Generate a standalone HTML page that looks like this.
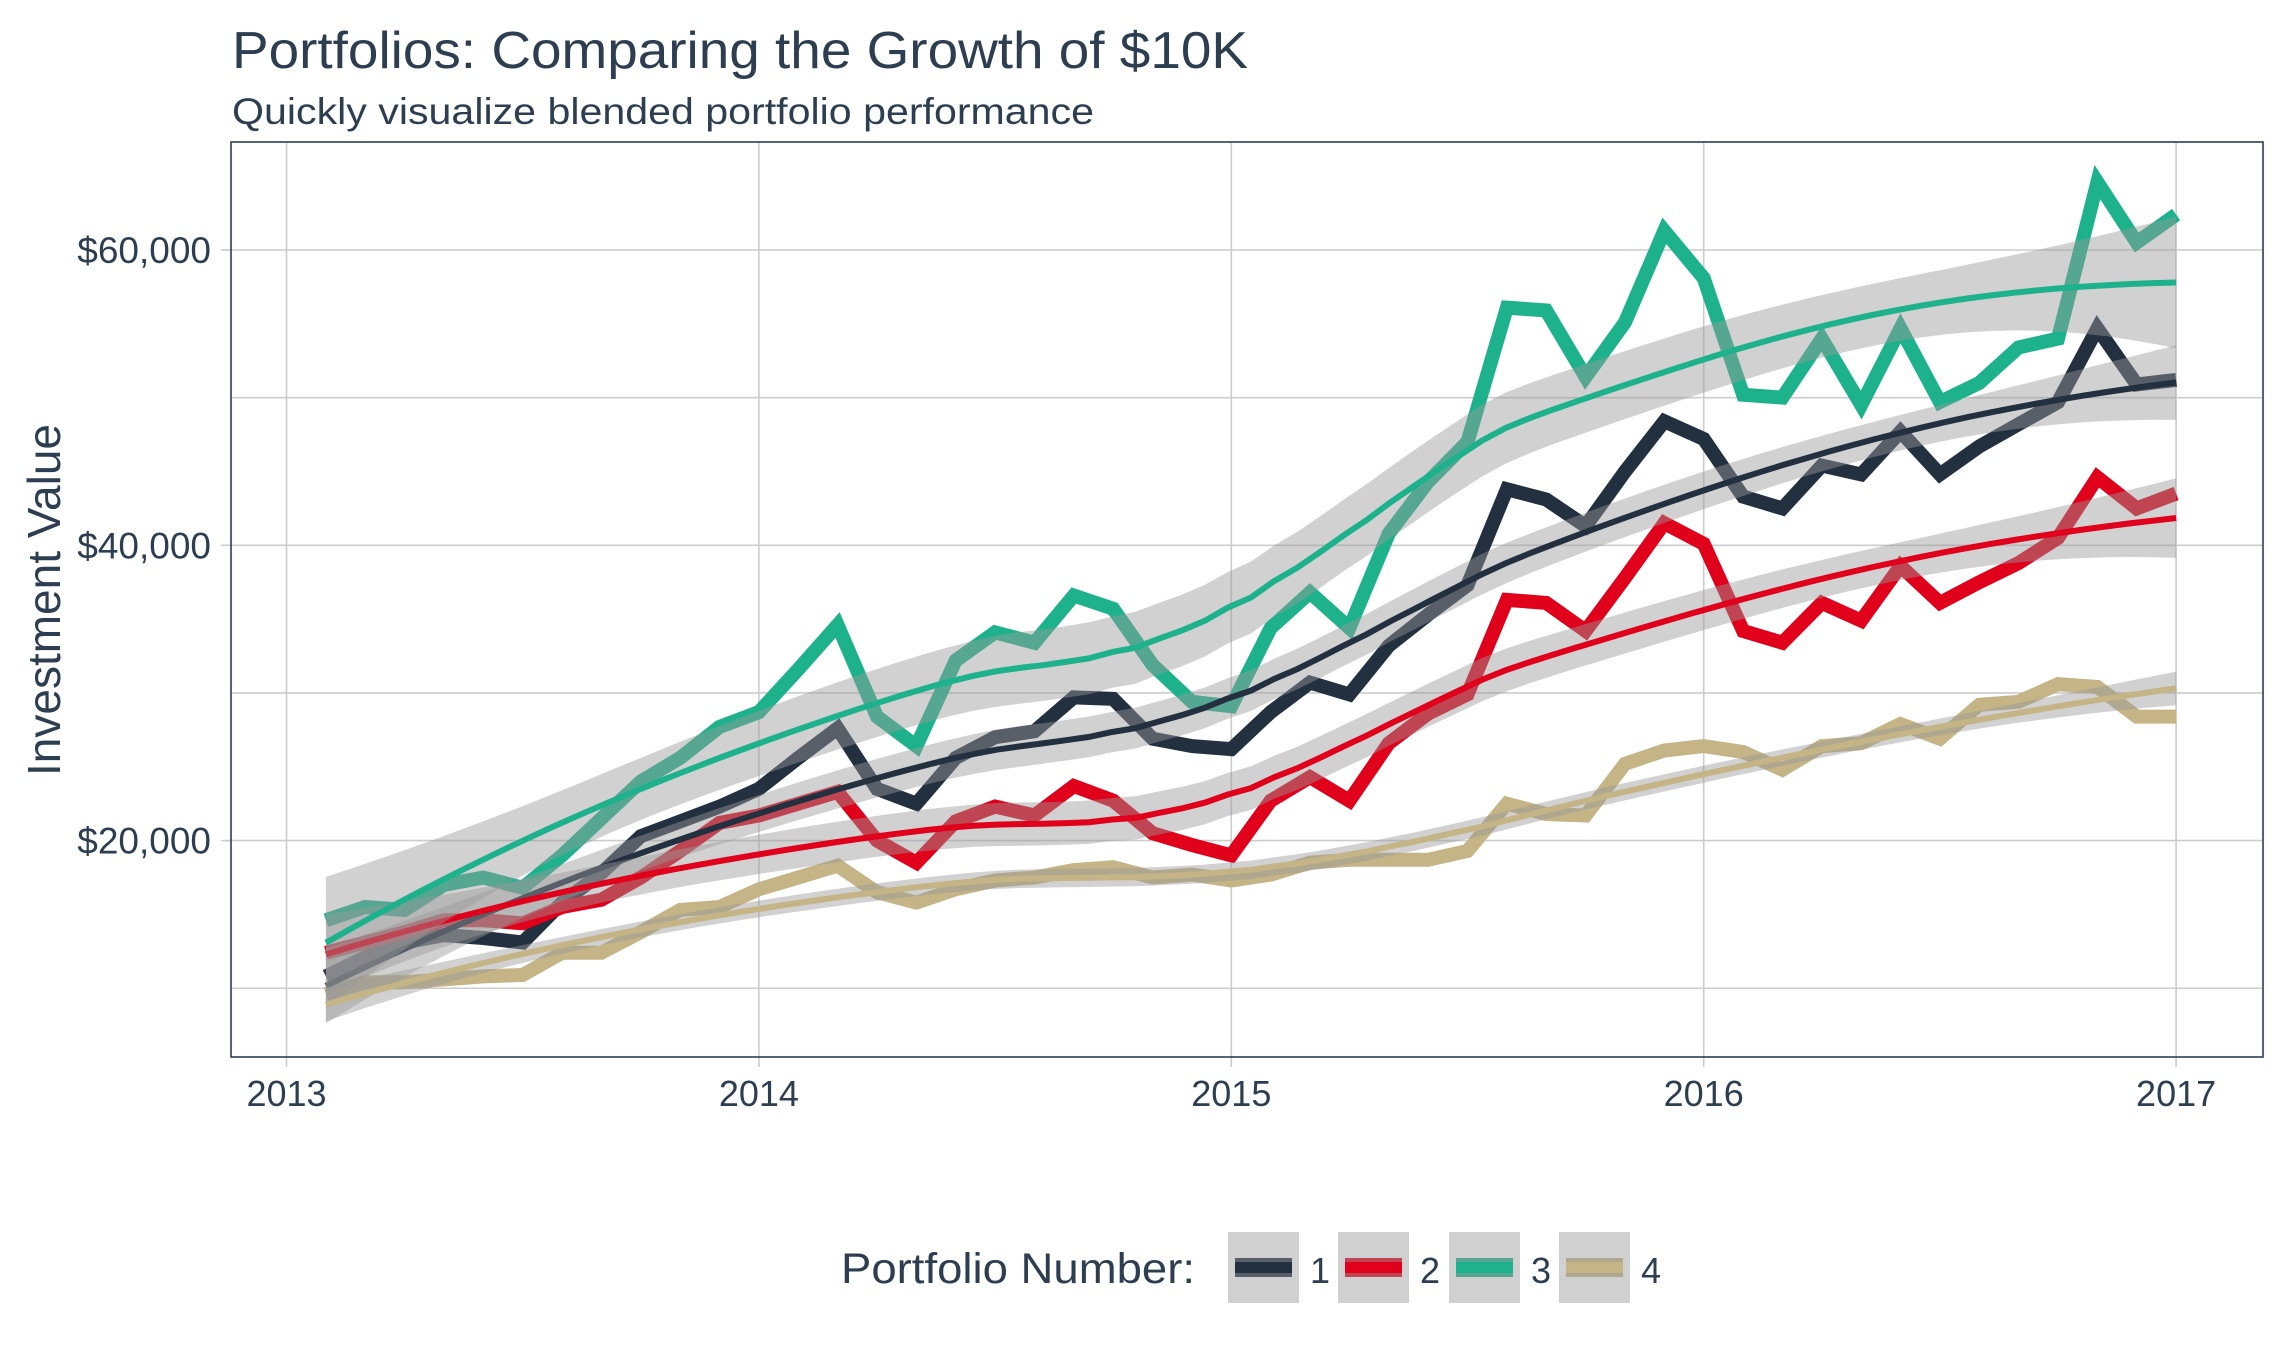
<!DOCTYPE html>
<html><head><meta charset="utf-8"><style>
html,body{margin:0;padding:0;background:#fff;}
svg{display:block;font-family:"Liberation Sans",Arial,sans-serif;}
</style></head><body>
<svg id="chart" width="2292" height="1350" viewBox="0 0 2292 1350" xmlns="http://www.w3.org/2000/svg">
<rect x="0" y="0" width="2292" height="1350" fill="#fff"/>
<text x="232" y="68" font-size="52" fill="#2c3e50" textLength="1016" lengthAdjust="spacingAndGlyphs">Portfolios: Comparing the Growth of $10K</text>
<text x="232" y="124" font-size="37" fill="#2c3e50" textLength="862" lengthAdjust="spacingAndGlyphs">Quickly visualize blended portfolio performance</text>
<g id="grid"></g>
<g id="yticks"></g>
<g id="xticks"></g>
<text transform="translate(60,600) rotate(-90)" text-anchor="middle" font-size="46" fill="#2c3e50">Investment Value</text>
<g id="rawlines"></g>
<g id="smooths"></g>
<rect x="231" y="142" width="2032" height="915" fill="none" stroke="#2c3e50" stroke-width="1.6"/>
<g id="legend">
<text x="841" y="1283" font-size="43" fill="#2c3e50" textLength="354" lengthAdjust="spacingAndGlyphs">Portfolio Number:</text>
</g>
</svg>
<script>
const NS="http://www.w3.org/2000/svg";
const seriesNames=["1","2","3","4"];
const seriesColors=["#233040","#e0001b","#1eb28c","#c4b486"];
const portfolio1=[10.8,12.1,13.1,13.6,13.4,13.1,15.8,17.8,20.3,21.3,22.3,23.5,25.6,27.6,23.5,22.5,25.6,27.0,27.4,29.7,29.6,26.9,26.4,26.2,28.7,30.7,29.9,33.2,35.3,37.3,43.8,43.1,41.3,45.0,48.4,47.2,43.3,42.5,45.4,44.8,47.7,44.8,46.7,48.2,49.7,54.7,50.9,51.2];
const portfolio2=[12.4,13.1,13.8,14.6,14.6,14.4,15.5,16.0,17.5,19.3,21.2,21.7,22.5,23.3,20.0,18.5,21.3,22.3,21.7,23.7,22.7,20.5,19.7,19.0,22.7,24.3,22.7,26.6,28.6,29.9,36.3,36.1,34.2,37.8,41.5,40.1,34.2,33.4,36.1,34.9,38.6,36.1,37.5,38.8,40.5,44.6,42.5,43.5];
const portfolio3=[14.6,15.5,15.3,17.0,17.5,16.8,19.0,21.5,24.0,25.6,27.7,28.7,31.6,34.6,28.4,26.4,32.2,34.1,33.4,36.6,35.7,31.9,29.4,29.1,34.4,36.8,34.4,40.8,44.3,47.0,56.1,55.9,51.4,55.1,61.3,58.1,50.2,50.0,54.0,49.5,54.7,49.7,51.0,53.4,54.0,64.6,60.5,62.4];
const portfolio4=[9.6,10.4,10.4,10.6,10.8,10.9,12.4,12.4,13.8,15.3,15.5,16.7,17.5,18.3,16.5,15.8,16.7,17.3,17.5,18.0,18.2,17.5,17.7,17.3,17.7,18.5,18.7,18.7,18.7,19.3,22.5,21.8,21.7,25.2,26.1,26.4,26.0,24.8,26.4,26.6,27.9,26.9,29.2,29.4,30.6,30.4,28.4,28.4];
const yTickValues=[20000,40000,60000];
const yTickLabels=["$20,000","$40,000","$60,000"];
const yGridValues=[10000,20000,30000,40000,50000,60000];
const xTickYears=[2013,2014,2015,2016,2017];
const startYear=2013, startMonth=1;

const allSeries=[portfolio1,portfolio2,portfolio3,portfolio4].map(a=>a.map(v=>v*1000));
function xs(t){return 286.5+(t-2013)*472.4;}
function ys(v){return 250+(60000-v)*295.3/20000;}
function tOf(i){return startYear+(startMonth+i)/12;}

const grid=document.getElementById('grid');
yGridValues.forEach(v=>{const l=document.createElementNS(NS,'line');


l.setAttribute('x1',231);l.setAttribute('x2',2263);l.setAttribute('y1',ys(v));l.setAttribute('y2',ys(v));
l.setAttribute('stroke','#cccccc');l.setAttribute('stroke-width','1.6');grid.appendChild(l);});
xTickYears.forEach(y=>{const l=document.createElementNS(NS,'line');


l.setAttribute('x1',xs(y));l.setAttribute('x2',xs(y));l.setAttribute('y1',142);l.setAttribute('y2',1057);
l.setAttribute('stroke','#cccccc');l.setAttribute('stroke-width','1.6');grid.appendChild(l);});

const yt=document.getElementById('yticks');
yTickValues.forEach((v,i)=>{const t=document.createElementNS(NS,'text');


t.setAttribute('x',211);t.setAttribute('y',ys(v)+13);t.setAttribute('text-anchor','end');
t.setAttribute('font-size','37');t.setAttribute('fill','#2c3e50');t.textContent=yTickLabels[i];yt.appendChild(t);
const k=document.createElementNS(NS,'line');


k.setAttribute('x1',221);k.setAttribute('x2',231);k.setAttribute('y1',ys(v));k.setAttribute('y2',ys(v));
k.setAttribute('stroke','#cccccc');k.setAttribute('stroke-width','1.6');yt.appendChild(k);});
const xt=document.getElementById('xticks');
xTickYears.forEach(y=>{const t=document.createElementNS(NS,'text');


t.setAttribute('x',xs(y));t.setAttribute('y',1106);t.setAttribute('text-anchor','middle');
t.setAttribute('font-size','36');t.setAttribute('fill','#2c3e50');t.textContent=String(y);xt.appendChild(t);
const k=document.createElementNS(NS,'line');


k.setAttribute('x1',xs(y));k.setAttribute('x2',xs(y));k.setAttribute('y1',1057);k.setAttribute('y2',1067);
k.setAttribute('stroke','#cccccc');k.setAttribute('stroke-width','1.6');xt.appendChild(k);});

const raw=document.getElementById('rawlines');
allSeries.forEach((s,g)=>{const p=document.createElementNS(NS,'polyline');


p.setAttribute('points',s.map((v,i)=>xs(tOf(i)).toFixed(1)+','+ys(v).toFixed(1)).join(' '));
p.setAttribute('fill','none');p.setAttribute('stroke',seriesColors[g]);p.setAttribute('stroke-width','14');
p.setAttribute('stroke-linejoin','miter');p.setAttribute('stroke-miterlimit','3');raw.appendChild(p);});

function solve3(A,b){const M=A.map((r,i)=>r.concat([b[i]]));
for(let c=0;c<3;c++){let p=c;for(let r=c+1;r<3;r++)if(Math.abs(M[r][c])>Math.abs(M[p][c]))p=r;
[M[c],M[p]]=[M[p],M[c]];for(let r=0;r<3;r++){if(r===c)continue;const f=M[r][c]/M[c][c];for(let k=c;k<4;k++)M[r][k]-=f*M[c][k];}}
return [M[0][3]/M[0][0],M[1][3]/M[1][1],M[2][3]/M[2][2]];}
function loessAt(X,Y,x0){const n=X.length,q=Math.floor(0.75*n);
const d=X.map(x=>Math.abs(x-x0));const h=d.slice().sort((a,b)=>a-b)[q-1]*1.0001;
const w=d.map(di=>{const r=di/h;return r<1?Math.pow(1-r*r*r,3):0;});
const A=[[0,0,0],[0,0,0],[0,0,0]];
for(let i=0;i<n;i++){const u=X[i]-x0,pw=[1,u,u*u];for(let a=0;a<3;a++)for(let b=0;b<3;b++)A[a][b]+=w[i]*pw[a]*pw[b];}
const c=solve3(A,[1,0,0]);const l=X.map((x,i)=>{const u=x-x0;return w[i]*(c[0]+c[1]*u+c[2]*u*u);});
let f=0,ss=0;for(let i=0;i<n;i++){f+=l[i]*Y[i];ss+=l[i]*l[i];}return {f,ss,l};}

const sm=document.getElementById('smooths');
allSeries.forEach((s,g)=>{const X=s.map((v,i)=>tOf(i));
let rss=0,tr=0;X.forEach((x,i)=>{const r=loessAt(X,s,x);rss+=Math.pow(s[i]-r.f,2);tr+=r.l[i];});
const sigma=Math.sqrt(rss/(X.length-tr));
const N=80,x0=X[0],x1=X[X.length-1];const pts=[];
for(let k=0;k<=N;k++){const x=x0+(x1-x0)*k/N;const r=loessAt(X,s,x);pts.push([x,r.f,2.01*sigma*Math.sqrt(r.ss)]);}
const band=document.createElementNS(NS,'path');


const up=pts.map(p=>xs(p[0]).toFixed(1)+','+ys(p[1]+p[2]).toFixed(1));
const lo=pts.slice().reverse().map(p=>xs(p[0]).toFixed(1)+','+ys(p[1]-p[2]).toFixed(1));
band.setAttribute('d','M'+up.join('L')+'L'+lo.join('L')+'Z');
band.setAttribute('fill','rgba(153,153,153,0.45)');sm.appendChild(band);
const line=document.createElementNS(NS,'polyline');


line.setAttribute('points',pts.map(p=>xs(p[0]).toFixed(1)+','+ys(p[1]).toFixed(1)).join(' '));
line.setAttribute('fill','none');line.setAttribute('stroke',seriesColors[g]);line.setAttribute('stroke-width','6');sm.appendChild(line);});

const lg=document.getElementById('legend');
const keyX=[1228,1338,1449,1559];
seriesNames.forEach((nm,g)=>{const x=keyX[g];
const e=document.createElementNS(NS,'g');


const bg=document.createElementNS(NS,'rect');


bg.setAttribute('x',x);bg.setAttribute('y',1232);bg.setAttribute('width',71);bg.setAttribute('height',71);bg.setAttribute('fill','#d0d0d0');e.appendChild(bg);
const th=document.createElementNS(NS,'rect');


th.setAttribute('x',x+7);th.setAttribute('y',1258);th.setAttribute('width',57);th.setAttribute('height',19);th.setAttribute('fill',seriesColors[g]);e.appendChild(th);
const ov=document.createElementNS(NS,'rect');


ov.setAttribute('x',x+7);ov.setAttribute('y',1258);ov.setAttribute('width',57);ov.setAttribute('height',19);ov.setAttribute('fill','rgba(153,153,153,0.45)');e.appendChild(ov);
const core=document.createElementNS(NS,'rect');


core.setAttribute('x',x+7);core.setAttribute('y',1262);core.setAttribute('width',57);core.setAttribute('height',11);core.setAttribute('fill',seriesColors[g]);e.appendChild(core);
const t=document.createElementNS(NS,'text');


t.setAttribute('x',x+82);t.setAttribute('y',1283);t.setAttribute('font-size','36');t.setAttribute('fill','#2c3e50');t.textContent=nm;e.appendChild(t);
lg.appendChild(e);});
</script>
</body></html>
